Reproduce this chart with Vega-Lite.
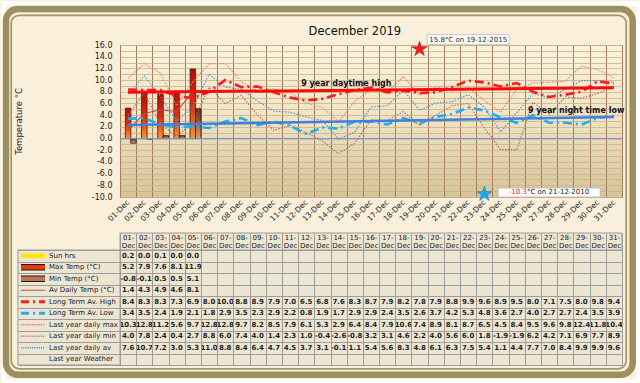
{
  "$schema": "https://vega.github.io/schema/vega-lite/v6.json",
  "background": "#f9efda",
  "padding": 0,
  "config": {
    "font": "DejaVu Sans",
    "view": {"stroke": null},
    "locale": {"number": {"decimal": ".", "thousands": ",", "grouping": [3], "currency": ["", ""], "minus": "-"}}
  },
  "datasets": {
    "one": [{}],
    "days": [
      {"d":"01-Dec","sun":0.2,"max":5.2,"min":-0.8,"av":1.4,"lth":8.4,"ltl":3.4,"lymax":10.3,"lymin":4.0,"lyav":7.6},
      {"d":"02-Dec","sun":0.0,"max":7.9,"min":-0.1,"av":4.3,"lth":8.3,"ltl":3.5,"lymax":12.8,"lymin":7.8,"lyav":10.7},
      {"d":"03-Dec","sun":0.1,"max":7.6,"min":0.5,"av":4.9,"lth":8.3,"ltl":2.4,"lymax":11.2,"lymin":2.4,"lyav":7.2},
      {"d":"04-Dec","sun":0.0,"max":8.1,"min":0.5,"av":4.6,"lth":7.3,"ltl":1.9,"lymax":5.6,"lymin":0.4,"lyav":3.0},
      {"d":"05-Dec","sun":0.0,"max":11.9,"min":5.1,"av":8.1,"lth":6.9,"ltl":2.1,"lymax":9.7,"lymin":2.7,"lyav":5.3},
      {"d":"06-Dec","lth":8.0,"ltl":1.8,"lymax":12.8,"lymin":8.8,"lyav":11.0},
      {"d":"07-Dec","lth":10.0,"ltl":2.9,"lymax":12.8,"lymin":6.0,"lyav":8.8},
      {"d":"08-Dec","lth":8.8,"ltl":3.5,"lymax":9.7,"lymin":7.4,"lyav":8.4},
      {"d":"09-Dec","lth":8.9,"ltl":2.3,"lymax":8.2,"lymin":4.0,"lyav":6.4},
      {"d":"10-Dec","lth":7.9,"ltl":2.9,"lymax":8.5,"lymin":1.4,"lyav":4.7},
      {"d":"11-Dec","lth":7.0,"ltl":2.2,"lymax":7.9,"lymin":2.3,"lyav":4.5},
      {"d":"12-Dec","lth":6.5,"ltl":0.8,"lymax":6.1,"lymin":1.0,"lyav":3.7},
      {"d":"13-Dec","lth":6.8,"ltl":1.9,"lymax":5.3,"lymin":-0.4,"lyav":3.1},
      {"d":"14-Dec","lth":7.6,"ltl":1.7,"lymax":2.9,"lymin":-2.6,"lyav":-0.1},
      {"d":"15-Dec","lth":8.3,"ltl":2.9,"lymax":6.4,"lymin":-0.8,"lyav":1.1},
      {"d":"16-Dec","lth":8.7,"ltl":2.9,"lymax":8.4,"lymin":3.2,"lyav":5.4},
      {"d":"17-Dec","lth":7.9,"ltl":2.4,"lymax":7.9,"lymin":3.1,"lyav":5.6},
      {"d":"18-Dec","lth":8.2,"ltl":3.5,"lymax":10.6,"lymin":4.6,"lyav":8.3},
      {"d":"19-Dec","lth":7.8,"ltl":2.6,"lymax":7.4,"lymin":2.2,"lyav":4.8},
      {"d":"20-Dec","lth":7.9,"ltl":3.7,"lymax":8.9,"lymin":4.0,"lyav":6.1},
      {"d":"21-Dec","lth":8.8,"ltl":4.2,"lymax":8.1,"lymin":5.6,"lyav":6.3},
      {"d":"22-Dec","lth":9.9,"ltl":5.3,"lymax":8.7,"lymin":6.0,"lyav":7.5},
      {"d":"23-Dec","lth":9.6,"ltl":4.8,"lymax":6.5,"lymin":1.8,"lyav":5.4},
      {"d":"24-Dec","lth":8.9,"ltl":3.6,"lymax":4.5,"lymin":-1.9,"lyav":1.1},
      {"d":"25-Dec","lth":9.5,"ltl":2.7,"lymax":8.4,"lymin":-1.9,"lyav":4.4},
      {"d":"26-Dec","lth":8.0,"ltl":4.0,"lymax":9.5,"lymin":6.2,"lyav":7.7},
      {"d":"27-Dec","lth":7.1,"ltl":2.7,"lymax":9.6,"lymin":4.2,"lyav":7.0},
      {"d":"28-Dec","lth":7.5,"ltl":2.7,"lymax":9.8,"lymin":7.1,"lyav":8.4},
      {"d":"29-Dec","lth":8.0,"ltl":2.4,"lymax":12.4,"lymin":6.9,"lyav":9.9},
      {"d":"30-Dec","lth":9.8,"ltl":3.5,"lymax":11.8,"lymin":7.7,"lyav":9.9},
      {"d":"31-Dec","lth":9.4,"ltl":3.9,"lymax":10.4,"lymin":8.9,"lyav":9.6}
    ],
    "trend": [
      {"d":"01-Dec","high":7.9,"low":2.3},
      {"d":"31-Dec","high":8.7,"low":3.7}
    ],
    "notes": [
      {"id":"title","d":"15-Dec","v":18.2,"text":"December 2019"},
      {"id":"hi","d":"12-Dec","v":9.4,"text":"9 year daytime high"},
      {"id":"lo","d":"26-Dec","v":4.7,"text":"9 year night time low"},
      {"id":"recHi","d":"22-Dec","v":16.94,"text":"15.8°C on 19-12-2015"},
      {"id":"recLo","d":"26-Dec","v":-9.23,"text":"-10.3","text2":"°C on 21-12-2010"},
      {"id":"boxLo","d":"27-Dec","v":-9.23},
      {"id":"starHi","d":"19-Dec","v":15.3},
      {"id":"starLo","d":"23-Dec","v":-9.5}
    ],
    "rows": [
      {"key":"sun","name":"Sun hrs"},
      {"key":"max","name":"Max Temp (°C)"},
      {"key":"min","name":"Min Temp (°C)"},
      {"key":"av","name":"Av Daily Temp (°C)"},
      {"key":"lth","name":"Long Term Av. High"},
      {"key":"ltl","name":"Long Term Av. Low"},
      {"key":"lymax","name":"Last year daily max"},
      {"key":"lymin","name":"Last year daily min"},
      {"key":"lyav","name":"Last year daily  av"},
      {"key":"wx","name":"Last year Weather"}
    ]
  },
  "bounds": "flush",
  "spacing": 53,
  "resolve": {"scale": {"color": "independent"}},
  "vconcat": [
    {
      "width": 502,
      "height": 152,
      "view": {"fill": {"gradient": "linear", "x1": 0, "y1": 0, "x2": 0, "y2": 1,
          "stops": [{"offset": 0, "color": "#faf2dd"}, {"offset": 0.45, "color": "#f1e5c6"}, {"offset": 1, "color": "#d6c397"}]}, "stroke": "#bba57b", "strokeWidth": 1},
      "layer": [
        {
          "data": {"name": "days"},
          "mark": {"type": "bar", "stroke": "#5c0c06", "strokeWidth": 0.8, "width": {"band": 0.34}, "xOffset": 0,
            "fill": {"gradient": "linear", "x1": 0, "y1": 0, "x2": 0, "y2": 1,
              "stops": [{"offset": 0, "color": "#b00c06"}, {"offset": 0.55, "color": "#e0340c"}, {"offset": 1, "color": "#f49a2c"}]}},
          "encoding": {
            "x": {"field": "d", "type": "nominal", "scale": {"paddingInner": 0, "paddingOuter": 0},
              "axis": {"orient": "bottom", "title": null, "labelAngle": -45, "labelAlign": "right", "labelBaseline": "middle", "tickBand": "extent", "grid": true, "gridColor": "#a47a5c", "gridWidth": 1, "ticks": false, "domain": false, "labelFontSize": 7.5, "labelColor": "#222222", "labelPadding": 4, "labelOverlap": false}},
            "y": {"field": "max", "type": "quantitative", "stack": null, "scale": {"domain": [-10, 16], "nice": false, "zero": false},
              "axis": {"orient": "left", "title": "Temperature °C", "values": [-10,-9,-8,-7,-6,-5,-4,-3,-2,-1,0,1,2,3,4,5,6,7,8,9,10,11,12,13,14,15,16], "tickCount": 40,
                "labelExpr": "datum.value % 2 == 0 ? format(datum.value, '.1f') : ''", "labelOverlap": false,
                "grid": true, "gridColor": "#c6b38e", "gridWidth": 0.8, "ticks": false, "domain": false,
                "labelFontSize": 8, "labelColor": "#1a1a1a", "labelPadding": 8,
                "titleFontSize": 8.5, "titleFontWeight": "normal", "titleColor": "#1a1a1a", "titlePadding": 68}}
          }
        },
        {
          "data": {"name": "days"},
          "mark": {"type": "bar", "stroke": "#3a1a0a", "strokeWidth": 0.8, "width": {"band": 0.34}, "xOffset": 5.4,
            "fill": {"gradient": "linear", "x1": 0, "y1": 0, "x2": 0, "y2": 1,
              "stops": [{"offset": 0, "color": "#5a2a12"}, {"offset": 1, "color": "#d9a274"}]}},
          "encoding": {
            "x": {"field": "d", "type": "nominal"},
            "y": {"field": "min", "type": "quantitative", "stack": null, "title": "Temperature °C"}
          }
        },
        {
          "data": {"name": "one"},
          "mark": {"type": "rule", "color": "#7097e6", "strokeWidth": 1},
          "encoding": {"y": {"datum": 0, "type": "quantitative"}}
        },
        {
          "data": {"name": "days"},
          "transform": [{"fold": ["lymax", "lymin", "lyav", "av"], "as": ["key", "value"]}, {"filter": "isValid(datum.value)"}],
          "mark": {"type": "line", "strokeCap": "butt", "strokeWidth": 1.1},
          "encoding": {
            "x": {"field": "d", "type": "nominal"},
            "y": {"field": "value", "type": "quantitative", "title": "Temperature °C"},
            "color": {"field": "key", "type": "nominal", "legend": null,
              "scale": {"domain": ["lymax", "lymin", "lyav", "av", "lth", "ltl"], "range": ["#f07a6e", "#a86a60", "#4f8fc4", "#c04848", "#ff1a1a", "#1fb0f0"]}},
            "strokeDash": {"field": "key", "type": "nominal", "legend": null,
              "scale": {"domain": ["lymax", "lymin", "lyav", "av", "lth", "ltl"], "range": [[1.5, 1.5], [1.5, 1.5], [1.5, 1.5], [1, 0], [9, 4, 2, 4], [9, 4, 2, 4]]}}
          }
        },
        {
          "data": {"name": "days"},
          "transform": [{"fold": ["lth", "ltl"], "as": ["key", "value"]}, {"filter": "isValid(datum.value)"}],
          "mark": {"type": "line", "strokeCap": "butt", "strokeWidth": 2.6},
          "encoding": {
            "x": {"field": "d", "type": "nominal"},
            "y": {"field": "value", "type": "quantitative", "title": "Temperature °C"},
            "color": {"field": "key", "type": "nominal", "legend": null,
              "scale": {"domain": ["lymax", "lymin", "lyav", "av", "lth", "ltl"], "range": ["#f07a6e", "#a86a60", "#4f8fc4", "#c04848", "#ff1a1a", "#1fb0f0"]}},
            "strokeDash": {"field": "key", "type": "nominal", "legend": null,
              "scale": {"domain": ["lymax", "lymin", "lyav", "av", "lth", "ltl"], "range": [[1.5, 1.5], [1.5, 1.5], [1.5, 1.5], [1, 0], [9, 4, 2, 4], [9, 4, 2, 4]]}}
          }
        },
        {
          "data": {"name": "trend"},
          "mark": {"type": "line", "color": "#ff0a0a", "strokeWidth": 3},
          "encoding": {"x": {"field": "d", "type": "nominal"}, "y": {"field": "high", "type": "quantitative", "title": "Temperature °C"}}
        },
        {
          "data": {"name": "trend"},
          "mark": {"type": "line", "color": "#3f7fe0", "strokeWidth": 2.5},
          "encoding": {"x": {"field": "d", "type": "nominal"}, "y": {"field": "low", "type": "quantitative", "title": "Temperature °C"}}
        },
        {
          "data": {"name": "notes"},
          "transform": [{"filter": "datum.id == 'title'"}],
          "mark": {"type": "text", "align": "center", "baseline": "middle", "fontSize": 11.5, "color": "#111111"},
          "encoding": {"x": {"field": "d", "type": "nominal"}, "y": {"field": "v", "type": "quantitative", "title": "Temperature °C"}, "text": {"field": "text"}}
        },
        {
          "data": {"name": "notes"},
          "transform": [{"filter": "datum.id == 'hi' || datum.id == 'lo'"}],
          "mark": {"type": "text", "align": "left", "baseline": "middle", "dx": -5, "fontSize": 8, "fontWeight": "bold", "color": "#111111"},
          "encoding": {"x": {"field": "d", "type": "nominal"}, "y": {"field": "v", "type": "quantitative", "title": "Temperature °C"}, "text": {"field": "text"}}
        },
        {
          "data": {"name": "notes"},
          "transform": [{"filter": "datum.id == 'recHi'"}],
          "mark": {"type": "point", "shape": "M-1,-0.116L1,-0.116L1,0.116L-1,0.116Z", "filled": true, "fill": "#ffffff", "stroke": "#b9b9b9", "strokeWidth": 0.8, "size": 6724, "opacity": 1},
          "encoding": {"x": {"field": "d", "type": "nominal"}, "y": {"field": "v", "type": "quantitative", "title": "Temperature °C"}}
        },
        {
          "data": {"name": "notes"},
          "transform": [{"filter": "datum.id == 'recHi'"}],
          "mark": {"type": "text", "align": "center", "baseline": "middle", "fontSize": 7, "color": "#222222"},
          "encoding": {"x": {"field": "d", "type": "nominal"}, "y": {"field": "v", "type": "quantitative", "title": "Temperature °C"}, "text": {"field": "text"}}
        },
        {
          "data": {"name": "notes"},
          "transform": [{"filter": "datum.id == 'boxLo'"}],
          "mark": {"type": "point", "shape": "M-1,-0.0882L1,-0.0882L1,0.0882L-1,0.0882Z", "filled": true, "fill": "#ffffff", "stroke": "#b9b9b9", "strokeWidth": 0.8, "size": 10404, "opacity": 1},
          "encoding": {"x": {"field": "d", "type": "nominal"}, "y": {"field": "v", "type": "quantitative", "title": "Temperature °C"}}
        },
        {
          "data": {"name": "notes"},
          "transform": [{"filter": "datum.id == 'recLo'"}],
          "mark": {"type": "text", "align": "right", "baseline": "middle", "dx": -6, "fontSize": 7, "color": "#e8201c"},
          "encoding": {"x": {"field": "d", "type": "nominal"}, "y": {"field": "v", "type": "quantitative", "title": "Temperature °C"}, "text": {"field": "text"}}
        },
        {
          "data": {"name": "notes"},
          "transform": [{"filter": "datum.id == 'recLo'"}],
          "mark": {"type": "text", "align": "left", "baseline": "middle", "dx": -6, "fontSize": 7, "color": "#222222"},
          "encoding": {"x": {"field": "d", "type": "nominal"}, "y": {"field": "v", "type": "quantitative", "title": "Temperature °C"}, "text": {"field": "text2"}}
        },
        {
          "data": {"name": "notes"},
          "transform": [{"filter": "datum.id == 'starHi' || datum.id == 'starLo'"}],
          "mark": {"type": "point", "shape": "M0,-1L0.2245,-0.309L0.9511,-0.309L0.3633,0.118L0.5878,0.809L0,0.382L-0.5878,0.809L-0.3633,0.118L-0.9511,-0.309L-0.2245,-0.309Z", "filled": true, "size": 250, "opacity": 1, "strokeWidth": 0.6},
          "encoding": {
            "x": {"field": "d", "type": "nominal"},
            "y": {"field": "v", "type": "quantitative", "title": "Temperature °C"},
            "fill": {"field": "id", "type": "nominal", "legend": null, "scale": {"domain": ["starHi", "starLo"], "range": ["#ea2318", "#1aa9ef"]}},
            "stroke": {"field": "id", "type": "nominal", "legend": null, "scale": {"domain": ["starHi", "starLo"], "range": ["#b81010", "#1080c0"]}}
          }
        }
      ]
    },
    {
      "width": 502,
      "height": 115,
      "view": {"fill": "#ece5d1", "stroke": "#9b9b9b", "strokeWidth": 1},
      "resolve": {"scale": {"x": "independent", "y": "independent"}},
      "layer": [
        {
          "data": {"name": "one"},
          "layer": [
            {
              "mark": {"type": "rect", "fill": "transparent", "stroke": "#ffffff", "strokeWidth": 5},
              "encoding": {
                "x": {"datum": -0.23207, "type": "quantitative", "scale": {"domain": [0, 1], "nice": false, "zero": false}, "axis": null}, "x2": {"datum": 1.03287},
                "y": {"datum": 3.14348, "type": "quantitative", "scale": {"domain": [0, 1], "nice": false, "zero": false}, "axis": null}, "y2": {"datum": -0.14348}
              }
            },
            {
              "mark": {"type": "rect", "fill": "transparent", "stroke": "#9c9060", "strokeWidth": 6.5, "cornerRadius": 12},
              "encoding": {
                "x": {"datum": -0.22709, "type": "quantitative", "axis": null}, "x2": {"datum": 1.02131},
                "y": {"datum": 3.09565, "type": "quantitative", "axis": null}, "y2": {"datum": -0.08435}
              }
            },
            {
              "mark": {"type": "rect", "fill": "transparent", "stroke": "#a29766", "strokeWidth": 1.7, "cornerRadius": 8},
              "encoding": {
                "x": {"datum": -0.21673, "type": "quantitative", "axis": null}, "x2": {"datum": 1.00837},
                "y": {"datum": 3.04087, "type": "quantitative", "axis": null}, "y2": {"datum": -0.03304}
              }
            },
            {
              "mark": {"type": "rect", "fill": "#ece5d1", "stroke": "#9b9b9b", "strokeWidth": 1},
              "encoding": {
                "x": {"datum": -0.2032, "type": "quantitative", "axis": null}, "x2": {"datum": 0},
                "y": {"datum": 0, "type": "quantitative", "axis": null}, "y2": {"datum": 1}
              }
            },
            {
              "mark": {"type": "rect", "fill": "#ece5d1", "stroke": "#9b9b9b", "strokeWidth": 1},
              "encoding": {
                "x": {"datum": 0, "type": "quantitative", "axis": null}, "x2": {"datum": 1},
                "y": {"datum": 1, "type": "quantitative", "axis": null}, "y2": {"datum": 1.1478}
              }
            }
          ]
        },
        {
          "data": {"name": "rows"},
          "layer": [
            {
              "transform": [{"filter": "datum.key == 'max' || datum.key == 'min'"}],
              "mark": {"type": "rule", "color": "#2a1208", "strokeWidth": 6.5, "strokeCap": "butt"},
              "encoding": {
                "x": {"datum": -0.1972, "type": "quantitative", "scale": {"domain": [0, 1], "nice": false, "zero": false}, "axis": null},
                "x2": {"datum": -0.1494},
                "y": {"field": "key", "type": "nominal", "scale": {"domain": ["sun","max","min","av","lth","ltl","lymax","lymin","lyav","wx"], "paddingInner": 0, "paddingOuter": 0}, "axis": null}
              }
            },
            {
              "transform": [{"filter": "datum.key == 'sun' || datum.key == 'max' || datum.key == 'min'"}],
              "mark": {"type": "rule", "strokeWidth": 4.5, "strokeCap": "butt"},
              "encoding": {
                "x": {"datum": -0.1972, "type": "quantitative", "axis": null}, "x2": {"datum": -0.1494},
                "y": {"field": "key", "type": "nominal", "axis": null},
                "color": {"field": "key", "type": "nominal", "legend": null,
                  "scale": {"domain": ["sun","max","min","av","lth","ltl","lymax","lymin","lyav"], "range": ["#ffe500","#e33b12","#b9785a","#c8504a","#ff1c1c","#1cb0f2","#f07a6e","#b58075","#5a96c8"]}}
              }
            },
            {
              "transform": [{"filter": "datum.key == 'av'"}],
              "mark": {"type": "rule", "strokeWidth": 1, "strokeCap": "butt"},
              "encoding": {
                "x": {"datum": -0.1972, "type": "quantitative", "axis": null}, "x2": {"datum": -0.1494},
                "y": {"field": "key", "type": "nominal", "axis": null},
                "color": {"field": "key", "type": "nominal", "legend": null,
                  "scale": {"domain": ["sun","max","min","av","lth","ltl","lymax","lymin","lyav"], "range": ["#ffe500","#e33b12","#b9785a","#c8504a","#ff1c1c","#1cb0f2","#f07a6e","#b58075","#5a96c8"]}}
              }
            },
            {
              "transform": [{"filter": "datum.key == 'lth' || datum.key == 'ltl'"}],
              "mark": {"type": "rule", "strokeWidth": 2.8, "strokeCap": "butt", "strokeDash": [8, 4, 2, 4]},
              "encoding": {
                "x": {"datum": -0.1972, "type": "quantitative", "axis": null}, "x2": {"datum": -0.1494},
                "y": {"field": "key", "type": "nominal", "axis": null},
                "color": {"field": "key", "type": "nominal", "legend": null,
                  "scale": {"domain": ["sun","max","min","av","lth","ltl","lymax","lymin","lyav"], "range": ["#ffe500","#e33b12","#b9785a","#c8504a","#ff1c1c","#1cb0f2","#f07a6e","#b58075","#5a96c8"]}}
              }
            },
            {
              "transform": [{"filter": "datum.key == 'lymax' || datum.key == 'lymin' || datum.key == 'lyav'"}],
              "mark": {"type": "rule", "strokeWidth": 1.5, "strokeCap": "butt", "strokeDash": [1.2, 1]},
              "encoding": {
                "x": {"datum": -0.1972, "type": "quantitative", "axis": null}, "x2": {"datum": -0.1494},
                "y": {"field": "key", "type": "nominal", "axis": null},
                "color": {"field": "key", "type": "nominal", "legend": null,
                  "scale": {"domain": ["sun","max","min","av","lth","ltl","lymax","lymin","lyav"], "range": ["#ffe500","#e33b12","#b9785a","#c8504a","#ff1c1c","#1cb0f2","#f07a6e","#b58075","#5a96c8"]}}
              }
            },
            {
              "mark": {"type": "text", "align": "left", "baseline": "middle", "fontSize": 7, "color": "#1a1a1a"},
              "encoding": {
                "x": {"datum": -0.1414, "type": "quantitative", "axis": null},
                "y": {"field": "key", "type": "nominal", "axis": null},
                "text": {"field": "name"}
              }
            }
          ]
        },
        {
          "data": {"name": "days"},
          "transform": [{"fold": ["sun","max","min","av","lth","ltl","lymax","lymin","lyav"], "as": ["key", "value"]}, {"filter": "isValid(datum.value)"}],
          "mark": {"type": "text", "fontSize": 7, "fontWeight": "bold", "color": "#1e1e1e", "baseline": "middle"},
          "encoding": {
            "x": {"field": "d", "type": "nominal", "scale": {"paddingInner": 0, "paddingOuter": 0},
              "axis": {"orient": "top", "title": null, "labelExpr": "[slice(datum.label, 0, 3), slice(datum.label, 3)]", "labelAngle": 0, "labelAlign": "center", "labelBaseline": "bottom", "labelFontSize": 7, "labelColor": "#222222", "labelLineHeight": 8, "labelPadding": -7, "labelOverlap": false,
                "tickBand": "extent", "ticks": true, "tickSize": 17, "tickColor": "#9b9b9b", "grid": true, "gridColor": "#9b9b9b", "domain": false, "zindex": 1}},
            "y": {"field": "key", "type": "nominal", "scale": {"domain": ["sun","max","min","av","lth","ltl","lymax","lymin","lyav","wx"], "paddingInner": 0, "paddingOuter": 0},
              "axis": {"orient": "left", "title": null, "labels": false, "tickBand": "extent", "ticks": true, "tickSize": 102, "tickColor": "#9b9b9b", "grid": true, "gridColor": "#9b9b9b", "domain": false, "zindex": 1}},
            "text": {"field": "value", "format": ".1f"}
          }
        }
      ]
    }
  ]
}
